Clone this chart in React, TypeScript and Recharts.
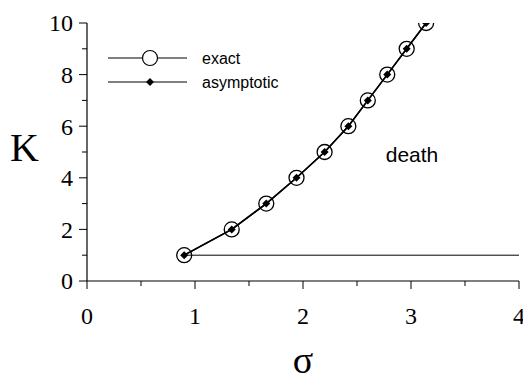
import { LineChart, Line, XAxis, YAxis } from 'recharts';

// sigma / K pairs
const sigmaExact = [0.9, 1.34, 1.66, 1.94, 2.2, 2.42, 2.6, 2.78, 2.96, 3.14];
const kExact = [1, 2, 3, 4, 5, 6, 7, 8, 9, 10];
const sigmaAsymptotic = [0.9, 1.34, 1.66, 1.94, 2.2, 2.42, 2.6, 2.78, 2.96, 3.14];
const kAsymptotic = [1, 2, 3, 4, 5, 6, 7, 8, 9, 10];
const sigmaBoundary = [0.9, 4];
const kBoundary = [1, 1];

const xTicks = [0, 0.5, 1, 1.5, 2, 2.5, 3, 3.5, 4];
const yTicks = [0, 1, 2, 3, 4, 5, 6, 7, 8, 9, 10];
const xMajor = [0, 1, 2, 3, 4];
const yMajor = [0, 2, 4, 6, 8, 10];

const SERIF = '"Liberation Serif", "Times New Roman", serif';
const SANS = '"Liberation Sans", Arial, sans-serif';

const exactData = sigmaExact.map((s, i) => ({ sigma: s, k: kExact[i] }));
const asymptoticData = sigmaAsymptotic.map((s, i) => ({ sigma: s, k: kAsymptotic[i] }));
const boundaryData = sigmaBoundary.map((s, i) => ({ sigma: s, k: kBoundary[i] }));

function XTick({ x, y, payload }: any) {
  const major = xMajor.includes(payload.value);
  return (
    <g>
      <line x1={x} x2={x} y1={y} y2={y + (major ? 8 : 5)} stroke="#000" strokeWidth={1} />
      {major && (
        <text x={x} y={y + 43} textAnchor="middle" fontFamily={SERIF} fontSize={24} fill="#000">
          {payload.value}
        </text>
      )}
    </g>
  );
}

function YTick({ x, y, payload }: any) {
  const major = yMajor.includes(payload.value);
  return (
    <g>
      <line x1={x - (major ? 8 : 5)} x2={x} y1={y} y2={y} stroke="#000" strokeWidth={1} />
      {major && (
        <text x={x - 14} y={y} dy="0.35em" textAnchor="end" fontFamily={SERIF} fontSize={24} fill="#000">
          {payload.value}
        </text>
      )}
    </g>
  );
}

const openCircle = (props: any) => (
  <circle key={`c${props.index}`} cx={props.cx} cy={props.cy} r={7.5} fill="none" stroke="#000" strokeWidth={1.3} />
);

const diamond = (props: any) => {
  const { cx, cy } = props;
  return (
    <polygon
      key={`d${props.index}`}
      points={`${cx},${cy - 4} ${cx + 4},${cy} ${cx},${cy + 4} ${cx - 4},${cy}`}
      fill="#000"
    />
  );
};

const legendRows = [
  { name: 'exact', marker: 'circle' },
  { name: 'asymptotic', marker: 'diamond' },
];

function LegendBox() {
  return (
    <g transform="translate(108,58)">
      {legendRows.map((r, i) => {
        const cy = i * 24;
        return (
          <g key={r.name}>
            <line x1={0} x2={79} y1={cy} y2={cy} stroke="#000" strokeWidth={1} />
            {r.marker === 'circle' ? (
              <circle cx={42} cy={cy} r={7.5} fill="#fff" stroke="#000" strokeWidth={1.2} />
            ) : (
              <polygon points={`42,${cy - 4} 46,${cy} 42,${cy + 4} 38,${cy}`} fill="#000" />
            )}
            <text x={94} y={cy} dy="0.35em" fontFamily={SANS} fontSize={16} fill="#000">
              {r.name}
            </text>
          </g>
        );
      })}
    </g>
  );
}

export default function App() {
  return (
    <div style={{ position: 'absolute', left: 0, top: 0, background: '#fff' }}>
      <LineChart width={523} height={374} margin={{ top: 23, right: 4, bottom: 0, left: 0 }}>
        <XAxis
          type="number"
          dataKey="sigma"
          domain={[0, 4]}
          ticks={xTicks}
          interval={0}
          height={93}
          tickSize={0}
          tickMargin={0}
          axisLine={{ stroke: '#000', strokeWidth: 1.2 }}
          tick={<XTick />}
          allowDataOverflow
          label={{ value: 'σ', position: 'insideBottom', offset: 8, dy: 7, fontFamily: SERIF, fontSize: 38, fill: '#000' }}
        />
        <YAxis
          type="number"
          dataKey="k"
          domain={[0, 10]}
          ticks={yTicks}
          interval={0}
          width={87}
          tickSize={0}
          tickMargin={0}
          axisLine={{ stroke: '#000', strokeWidth: 1.2 }}
          tick={<YTick />}
          allowDataOverflow
          label={{ value: 'K', position: 'insideLeft', offset: 10, dy: -5, fontFamily: SERIF, fontSize: 40, fill: '#000' }}
        />
        <Line
          data={boundaryData}
          dataKey="k"
          name="boundary"
          stroke="#000"
          strokeWidth={1}
          dot={false}
          legendType="none"
          isAnimationActive={false}
        />
        <Line
          data={exactData}
          dataKey="k"
          name="exact"
          stroke="#000"
          strokeWidth={1.5}
          dot={openCircle}
          isAnimationActive={false}
        />
        <Line
          data={asymptoticData}
          dataKey="k"
          name="asymptotic"
          stroke="#000"
          strokeWidth={1.5}
          dot={diamond}
          isAnimationActive={false}
        />
        <LegendBox />
        <text x={412} y={155} dy="0.35em" textAnchor="middle" fontFamily={SANS} fontSize={21} fill="#000">
          death
        </text>
      </LineChart>
    </div>
  );
}
